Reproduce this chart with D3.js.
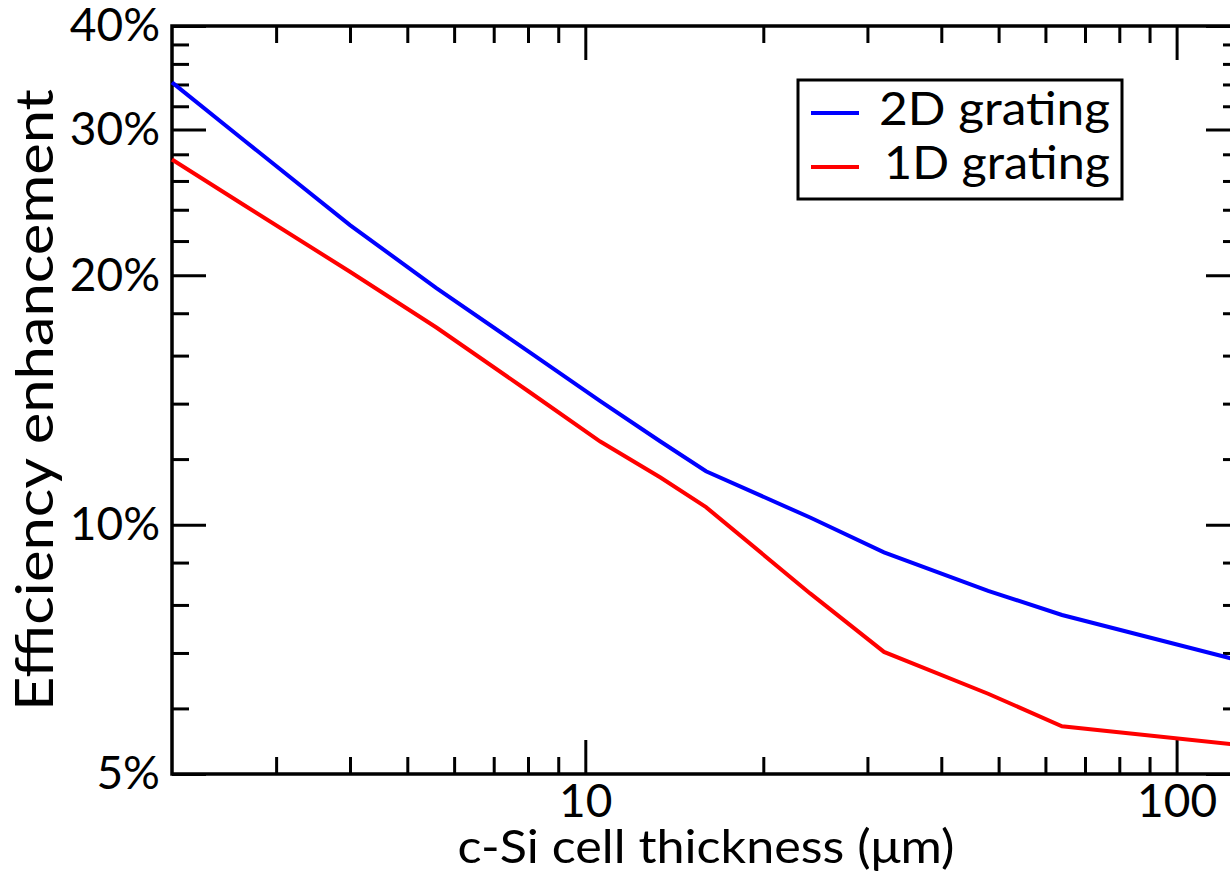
<!DOCTYPE html>
<html>

<head>
    <meta charset="utf-8">
    <!-- Load d3.js -->
    <script src="https://d3js.org/d3.v7.min.js"></script>
    <style>
        body {
            margin: 0;
            background: white;
        }
        text {
            font-family: "Lato", "DejaVu Sans", sans-serif;
            fill: black;
        }
    </style>
</head>

<body>
    <!-- Create a div where the graph will take place -->
    <div id="my_dataviz"></div>
</body>
<script>

    // data (thickness in um, enhancement in %)
    var thickness = [2, 2.65, 4, 5.6, 8, 10.6, 13.4, 16, 24, 32, 48, 64, 128];
    var grating2D = [34.2, 29.1, 23.0, 19.3, 16.2, 14.1, 12.6, 11.6, 10.2, 9.26, 8.32, 7.78, 6.85];
    var grating1D = [27.6, 24.3, 20.2, 17.3, 14.5, 12.6, 11.4, 10.5, 8.26, 7.02, 6.25, 5.71, 5.42];

    var seriesNames = ["2D grating", "1D grating"];
    var seriesColors = ["#0000ff", "#ff0000"];

    // tick values
    var xMajor = [10, 100];
    var xMinor = [3, 4, 5, 6, 7, 8, 9, 20, 30, 40, 50, 60, 70, 80, 90];
    var yMajor = [5, 10, 20, 30, 40];
    var yMinor = [6, 7, 8, 9, 12, 14, 16, 18, 22, 24, 26, 28, 32, 34, 36, 38];

    // set the dimensions and margins of the graph
    var margin = { top: 26, right: -10, bottom: 100, left: 172 },
        width = 1230 - margin.left - margin.right,
        height = 874 - margin.top - margin.bottom;

    var svg = d3.select("#my_dataviz")
        .append("svg")
        .attr("width", 1230)
        .attr("height", 874)
        .append("g")
        .attr("transform", "translate(" + margin.left + "," + margin.top + ")");

    var x = d3.scaleLog()
        .domain([2, 128])
        .range([0, width]);

    var y = d3.scaleLog()
        .domain([5, 40])
        .range([height, 0]);

    var majorLen = 34, minorLen = 17;

    function styleAxis(g, fontSize) {
        g.select(".domain").remove();
        g.selectAll(".tick line").attr("stroke", "black").attr("stroke-width", 3);
        g.selectAll(".tick text")
            .style("font-size", fontSize + "px")
            .style("font-family", "Lato, 'DejaVu Sans', sans-serif")
            .attr("fill", "black");
    }

    // bottom axis, ticks pointing inward
    svg.append("g")
        .attr("transform", "translate(0," + height + ")")
        .call(d3.axisBottom(x).tickValues(xMajor).tickFormat(d3.format("d"))
            .tickSizeInner(-majorLen).tickSizeOuter(0).tickPadding(10))
        .call(styleAxis, 46);
    svg.append("g")
        .attr("transform", "translate(0," + height + ")")
        .call(d3.axisBottom(x).tickValues(xMinor).tickFormat("")
            .tickSizeInner(-minorLen).tickSizeOuter(0))
        .call(styleAxis, 46);

    // top axis (mirror)
    svg.append("g")
        .call(d3.axisTop(x).tickValues(xMajor).tickFormat("")
            .tickSizeInner(-majorLen).tickSizeOuter(0))
        .call(styleAxis, 46);
    svg.append("g")
        .call(d3.axisTop(x).tickValues(xMinor).tickFormat("")
            .tickSizeInner(-minorLen).tickSizeOuter(0))
        .call(styleAxis, 46);

    // left axis
    svg.append("g")
        .call(d3.axisLeft(y).tickValues(yMajor).tickFormat(function (d) { return d + "%"; })
            .tickSizeInner(-majorLen).tickSizeOuter(0).tickPadding(12))
        .call(styleAxis, 46);
    svg.append("g")
        .call(d3.axisLeft(y).tickValues(yMinor).tickFormat("")
            .tickSizeInner(-minorLen).tickSizeOuter(0))
        .call(styleAxis, 46);

    // right axis (mirror)
    svg.append("g")
        .attr("transform", "translate(" + width + ",0)")
        .call(d3.axisRight(y).tickValues(yMajor).tickFormat("")
            .tickSizeInner(-majorLen).tickSizeOuter(0))
        .call(styleAxis, 46);
    svg.append("g")
        .attr("transform", "translate(" + width + ",0)")
        .call(d3.axisRight(y).tickValues(yMinor).tickFormat("")
            .tickSizeInner(-minorLen).tickSizeOuter(0))
        .call(styleAxis, 46);

    // frame
    svg.append("rect")
        .attr("x", 0)
        .attr("y", 0)
        .attr("width", width)
        .attr("height", height)
        .attr("fill", "none")
        .attr("stroke", "black")
        .attr("stroke-width", 3.5);

    // the lines
    var line = d3.line()
        .x(function (d) { return x(d[0]); })
        .y(function (d) { return y(d[1]); });

    [grating2D, grating1D].forEach(function (vals, i) {
        svg.append("path")
            .datum(thickness.map(function (t, j) { return [t, vals[j]]; }))
            .attr("fill", "none")
            .attr("stroke", seriesColors[i])
            .attr("stroke-width", 4)
            .attr("d", line);
    });

    // axis titles
    svg.append("text")
        .attr("x", 706 - margin.left)
        .attr("y", 863 - margin.top)
        .style("text-anchor", "middle")
        .style("font-size", "46px")
        .attr("textLength", 497)
        .attr("lengthAdjust", "spacingAndGlyphs")
        .text("c-Si cell thickness (\u03bcm)");

    svg.append("text")
        .attr("transform", "rotate(-90)")
        .attr("x", -(height / 2))
        .attr("y", 53 - margin.left)
        .style("text-anchor", "middle")
        .style("font-size", "52px")
        .attr("textLength", 622)
        .attr("lengthAdjust", "spacingAndGlyphs")
        .text("Efficiency enhancement");

    // legend
    var legend = svg.append("g")
        .attr("transform", "translate(" + (798 - margin.left) + "," + (80 - margin.top) + ")");
    legend.append("rect")
        .attr("width", 324)
        .attr("height", 119)
        .attr("fill", "white")
        .attr("stroke", "black")
        .attr("stroke-width", 3);
    seriesNames.forEach(function (name, i) {
        legend.append("line")
            .attr("x1", 13)
            .attr("x2", 61)
            .attr("y1", 33 + i * 54)
            .attr("y2", 33 + i * 54)
            .attr("stroke", seriesColors[i])
            .attr("stroke-width", 4);
        legend.append("text")
            .attr("x", 81 + i * 5)
            .attr("y", 45 + i * 54)
            .style("font-size", "46px")
            .attr("textLength", 231 - i * 5)
            .attr("lengthAdjust", "spacingAndGlyphs")
            .text(name);
    });

</script>

</html>
